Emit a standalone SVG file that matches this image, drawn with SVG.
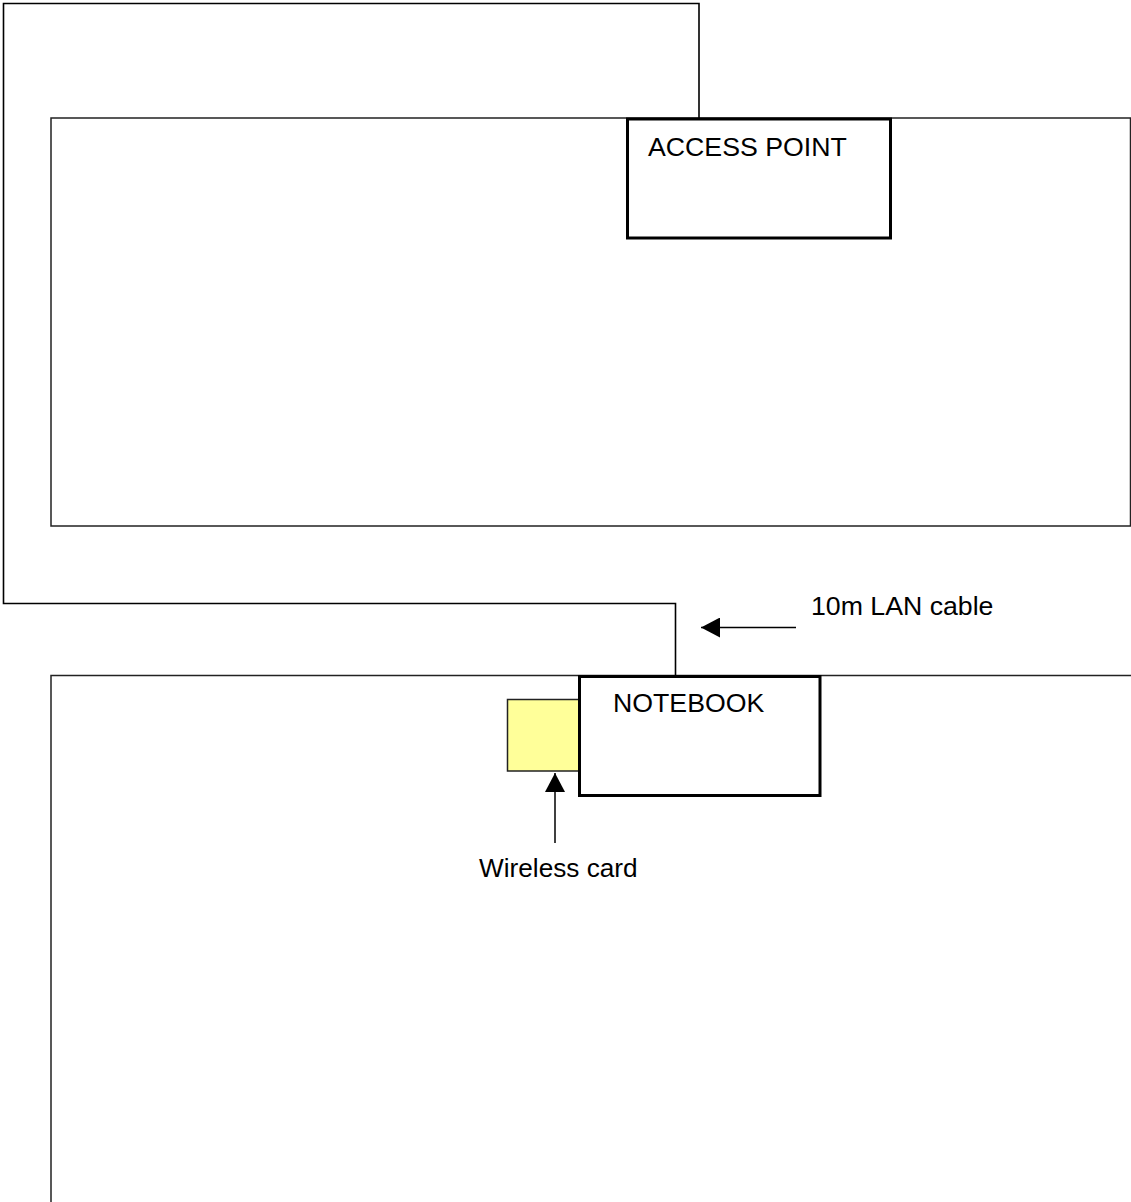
<svg xmlns="http://www.w3.org/2000/svg" width="1131" height="1202" viewBox="0 0 1131 1202">
<style>
.room{fill:#fff;stroke:#222;stroke-width:1.5}
.dev{fill:#fff;stroke:#000;stroke-width:3}
.cable{fill:none;stroke:#000;stroke-width:1.6}
.lbl{font-family:"Liberation Sans",Arial,sans-serif;font-size:26.7px;fill:#000}
.arr{stroke:#000;stroke-width:1.5;fill:none}
</style>
<defs>
<marker id="ah" markerWidth="20" markerHeight="20" refX="19" refY="10" orient="auto" markerUnits="userSpaceOnUse">
<path d="M0,0 L19,10 L0,20 Z" fill="#000"/>
</marker>
</defs>
<rect width="1131" height="1202" fill="#fff"/>
<g id="room-top"><rect class="room" x="51" y="118" width="1079.5" height="408"/></g>
<g id="room-bottom"><rect class="room" x="51" y="675.5" width="1120" height="600"/></g>
<g id="connectors">
<path class="cable" d="M699,118 V3.5 H3.5 V603.5 H675.5 V676"/>
<line class="arr" x1="796" y1="627.5" x2="701" y2="627.5" marker-end="url(#ah)"/>
<line class="arr" x1="555" y1="843" x2="555" y2="773" marker-end="url(#ah)"/>
</g>
<g id="access-point">
<rect class="dev" x="627.5" y="119" width="263" height="119"/>
<text class="lbl" x="648" y="156">ACCESS POINT</text>
</g>
<g id="wireless-card-box"><rect x="507.5" y="699.5" width="72" height="71.5" fill="#ffff99" stroke="#222" stroke-width="1.5"/></g>
<g id="notebook">
<rect class="dev" x="579.5" y="676.5" width="240.5" height="119"/>
<text class="lbl" x="613" y="712">NOTEBOOK</text>
</g>
<g id="label-lan"><text class="lbl" x="811" y="615">10m LAN cable</text></g>
<g id="label-wireless"><text class="lbl" x="479" y="877" style="font-size:26.2px">Wireless card</text></g>
</svg>
